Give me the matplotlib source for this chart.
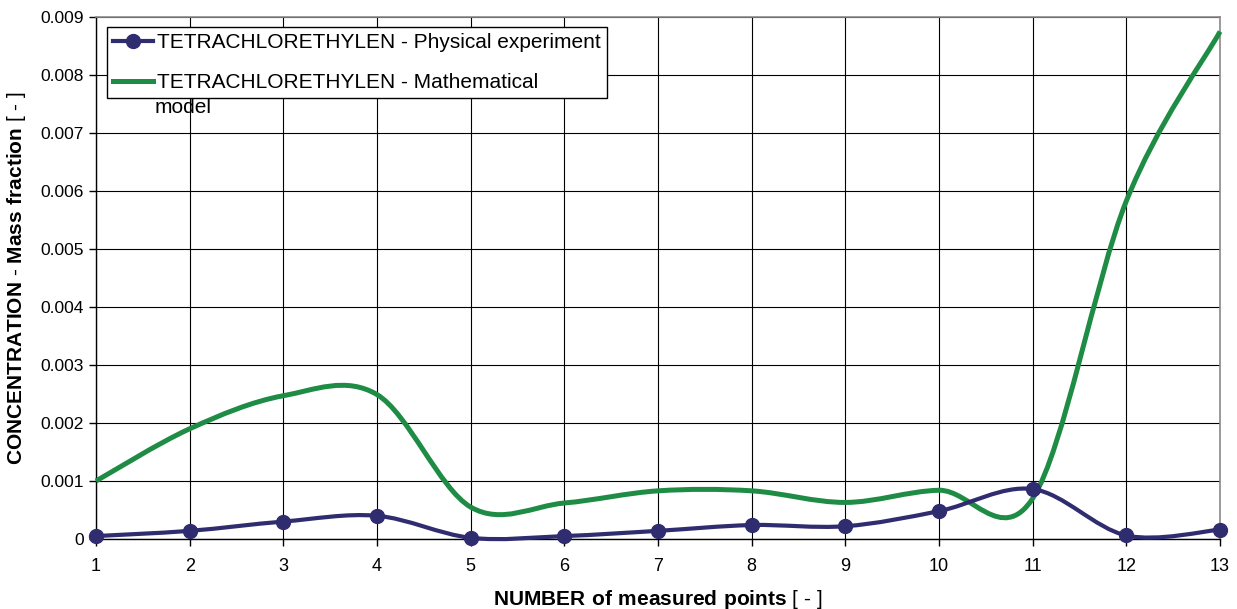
import numpy as np
import matplotlib
matplotlib.use("Agg")
import matplotlib.pyplot as plt
from matplotlib.path import Path
from matplotlib.patches import PathPatch
from matplotlib.lines import Line2D

plt.rcParams['font.family'] = ['Liberation Sans', 'DejaVu Sans']
plt.rcParams['mathtext.fontset'] = 'custom'
plt.rcParams['mathtext.rm'] = 'Liberation Sans'
plt.rcParams['mathtext.bf'] = 'Liberation Sans:bold'

# measured point number
points = [1, 2, 3, 4, 5, 6, 7, 8, 9, 10, 11, 12, 13]
# mass fraction, physical experiment
experiment = [0.00005, 0.00014, 0.00030, 0.00040, 0.00002, 0.00005, 0.00014,
              0.00024, 0.00022, 0.00048, 0.00086, 0.00006, 0.00016]
# mass fraction, mathematical model
model = [0.00100, 0.00190, 0.00247, 0.00249, 0.00055, 0.00062, 0.00083,
         0.00083, 0.00063, 0.00084, 0.00070, 0.00583, 0.00875]

yticks = [0, 0.001, 0.002, 0.003, 0.004, 0.005, 0.006, 0.007, 0.008, 0.009]
ytick_labels = ["0", "0.001", "0.002", "0.003", "0.004", "0.005", "0.006",
                "0.007", "0.008", "0.009"]

label_exp = "TETRACHLORETHYLEN - Physical experiment"
label_mod = "TETRACHLORETHYLEN - Mathematical"

blue = '#302c70'
green = '#1e8c45'


def smooth_path(x, y):
    # spreadsheet-style smoothed line: bezier segments through every point
    p = np.column_stack([x, y]).astype(float)
    ext = np.vstack([p[0], p, p[-1]])
    verts = [p[0]]
    codes = [Path.MOVETO]
    for i in range(len(p) - 1):
        p0, p1, p2, p3 = ext[i], ext[i + 1], ext[i + 2], ext[i + 3]
        verts += [p1 + (p2 - p0) / 6, p2 - (p3 - p1) / 6, p2]
        codes += [Path.CURVE4] * 3
    return Path(verts, codes)


fig = plt.figure(figsize=(12.37, 6.09), dpi=100)
ax = fig.add_axes([0.0776, 0.115, 0.9087, 0.857])

ax.add_patch(PathPatch(smooth_path(points, model), facecolor='none',
                       edgecolor=green, lw=3.6, zorder=3, clip_on=False,
                       capstyle='butt'))
ax.add_patch(PathPatch(smooth_path(points, experiment), facecolor='none',
                       edgecolor=blue, lw=3.0, zorder=4, clip_on=False))
ax.plot(points, experiment, 'o', color=blue, ms=10, zorder=5, clip_on=False)

ax.set_xlim(1, 13)
ax.set_ylim(0, 0.009)
ax.set_xticks(points)
ax.set_yticks(yticks)
ax.set_yticklabels(ytick_labels)
ax.tick_params(labelsize=12.5, direction='out', length=5, width=1, color='black')
ax.tick_params(axis='x', pad=9, labelsize=13)
ax.grid(True, color='black', lw=0.8)
ax.set_axisbelow(True)
for s in ['top', 'right']:
    ax.spines[s].set_color('#8a8a8a')
    ax.spines[s].set_linewidth(1.2)
for s in ['left', 'bottom']:
    ax.spines[s].set_color('black')
    ax.spines[s].set_linewidth(1)

ax.set_xlabel(r"$\bf{NUMBER\ of\ measured\ points}$ [ - ]", fontsize=15, labelpad=9)
ax.set_ylabel(r"$\bf{CONCENTRATION}$ - $\bf{Mass\ fraction}$ [ - ]",
              fontsize=15, labelpad=9)

handles = [Line2D([], [], color=blue, lw=3.0, marker='o', ms=10),
           Line2D([], [], color=green, lw=3.6)]
leg = ax.legend(handles, [label_exp, label_mod], loc='upper left',
                bbox_to_anchor=(0.0098, 0.981), fontsize=15, frameon=True,
                fancybox=False, edgecolor='black', framealpha=1,
                handlelength=1.9, handletextpad=0.2, borderpad=0.3,
                labelspacing=1.0, borderaxespad=0)
leg.get_frame().set_linewidth(1)
ax.text(0.0525, 0.826, "model", transform=ax.transAxes, fontsize=15,
        va='center', ha='left', zorder=6)

fig.savefig("out.png", dpi=100)
